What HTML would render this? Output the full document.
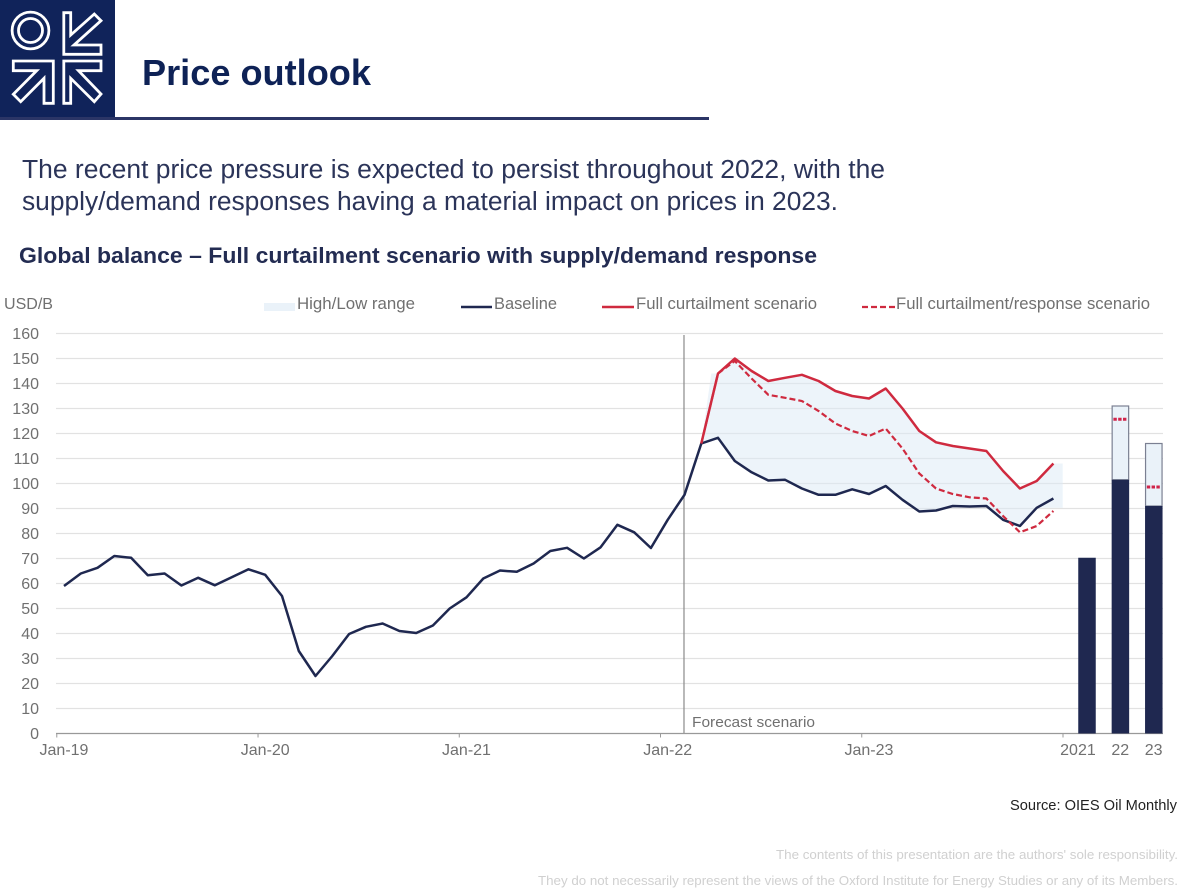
<!DOCTYPE html>
<html lang="en">
<head>
<meta charset="utf-8">
<title>Price outlook</title>
<style>
  html,body{margin:0;padding:0;background:#fff;width:1189px;height:891px;overflow:hidden}
  svg{display:block;font-family:"Liberation Sans",Arial,sans-serif}
</style>
</head>
<body>
<svg id="page" xmlns="http://www.w3.org/2000/svg" width="1189" height="891" viewBox="0 0 1189 891">
  <rect x="0" y="0" width="1189" height="891" fill="#ffffff"/>
  <g>
    <rect x="0" y="0" width="115" height="118" fill="#10235a"/>
    <g fill="none" stroke="#ffffff" stroke-width="2.8">
      <circle cx="30.5" cy="30.5" r="18.4"/>
      <circle cx="30.5" cy="30.5" r="12"/>
      <polygon points="63.8,12.7 70.7,12.7 70.7,35 94.3,14 101,20.7 74,45 101,45 101,54.3 63.8,54.3"/>
      <polygon points="13.3,61 53.3,61 53.3,103.3 44,103.3 44,78.3 20.7,101.7 13.3,94.3 36.7,70.7 13.3,70.7"/>
      <polygon points="63.8,61 101,61 101,70.7 78.5,70.7 101,94 94.3,101.7 70.7,78.3 70.7,103.3 63.8,103.3"/>
    </g>
  </g>
  <text x="142" y="85" font-size="36" font-weight="700" fill="#0e2256" textLength="229" lengthAdjust="spacingAndGlyphs">Price outlook</text>
  <rect x="0" y="117" width="709" height="3" fill="#2b3566"/>
  <text x="22" y="178" font-size="25.5" fill="#2b3459" textLength="863" lengthAdjust="spacingAndGlyphs">The recent price pressure is expected to persist throughout 2022, with the</text>
  <text x="22" y="210" font-size="25.5" fill="#2b3459" textLength="816" lengthAdjust="spacingAndGlyphs">supply/demand responses having a material impact on prices in 2023.</text>
  <text x="19" y="263" font-size="22" font-weight="700" fill="#232c52" textLength="798" lengthAdjust="spacingAndGlyphs">Global balance – Full curtailment scenario with supply/demand response</text>

  <text x="4" y="309" font-size="16" fill="#707070" textLength="49" lengthAdjust="spacingAndGlyphs">USD/B</text>

  <g font-size="16.5" fill="#707070">
    <g>
      <rect x="264" y="303" width="31" height="8" fill="#eaf2f9"/>
      <text x="297" y="309" textLength="118" lengthAdjust="spacingAndGlyphs">High/Low range</text>
    </g>
    <g>
      <line x1="461" y1="307" x2="492" y2="307" stroke="#1f2850" stroke-width="2.5"/>
      <text x="494" y="309" textLength="63" lengthAdjust="spacingAndGlyphs">Baseline</text>
    </g>
    <g>
      <line x1="602" y1="307" x2="634" y2="307" stroke="#cf2a3f" stroke-width="2.5"/>
      <text x="636" y="309" textLength="181" lengthAdjust="spacingAndGlyphs">Full curtailment scenario</text>
    </g>
    <g>
      <line x1="862" y1="307" x2="895" y2="307" stroke="#cf2a3f" stroke-width="2.2" stroke-dasharray="6 3"/>
      <text x="896" y="309" textLength="254" lengthAdjust="spacingAndGlyphs">Full curtailment/response scenario</text>
    </g>
  </g>

  <g id="chart"></g>

  <text x="1010" y="810" font-size="14.5" fill="#222222" textLength="167" lengthAdjust="spacingAndGlyphs">Source: OIES Oil Monthly</text>
  <text x="776" y="859" font-size="13" fill="#d0d0d0" textLength="402" lengthAdjust="spacingAndGlyphs">The contents of this presentation are the authors' sole responsibility.</text>
  <text x="538" y="885" font-size="13" fill="#d0d0d0" textLength="640" lengthAdjust="spacingAndGlyphs">They do not necessarily represent the views of the Oxford Institute for Energy Studies or any of its Members.</text>
</svg>

<script>
// ---- chart data (monthly, Jan-19 to Dec-23; USD/B) ----
const yTicks = [0,10,20,30,40,50,60,70,80,90,100,110,120,130,140,150,160];
const xTickMonths = [0,12,24,36,48];
const xTickLabels = ['Jan-19','Jan-20','Jan-21','Jan-22','Jan-23'];
const baseline = [
  59,64,66.3,71,70.3,63.3,64,59.2,62.3,59.3,62.5,65.7,
  63.5,55,33,23,31,39.8,42.7,44,41,40.2,43.2,50,
  54.5,62,65.2,64.7,68,73,74.3,70,74.5,83.5,80.5,74.2,
  85.5,95.5,116,118.3,109,104.5,101.2,101.5,98,95.5,95.5,97.7,
  95.8,99,93.5,88.8,89.2,91,90.8,91,85.5,83,90.3,94
];
const scenarioStartMonth = 38;
const fullCurtailment = [116,144,150,145,141,142.3,143.5,141,137,135,134,138,130,121,116.5,115,114,113,105,98,101,108];
const response = [116,144,149,142,135.5,134.3,133,129,124,121,119,122,114,104,98,95.8,94.5,94,87,80.5,83,89];
const rangeHigh = [116,144,150,145,141,142.3,143.5,141,137,135,134,138,130,121,116.5,115,114,113,105,98,101,108];
const rangeLow = [116,118.3,109,104.5,101.2,101.5,98,95.5,95.5,97.7,95.8,99,93.5,88.8,89.2,91,90.8,91,85.5,83,90.3,90.3];
const forecastStartMonth = 37;
const barLabels = ['2021','22','23'];
const barBaseline = [70.3,101.5,91];
const barHigh = [null,131,116];
const barResponse = [null,125.7,98.6];

// ---- axis functions ----
const yOf = v => 733.5 - v * 2.5;
const xOf = m => 64 + m * 16.77;
const barCenter = i => 1087 + i * 33.4;
const barWidth = 17.5;

const NS = 'http://www.w3.org/2000/svg';
const chart = document.getElementById('chart');
function mk(tag, attrs, text){
  const el = document.createElementNS(NS, tag);
  for (const k in attrs) el.setAttribute(k, attrs[k]);
  if (text !== undefined) el.textContent = text;
  chart.appendChild(el);
  return el;
}
function pts(list){ return list.map(p => p[0].toFixed(1) + ',' + p[1].toFixed(1)).join(' '); }

// gridlines and y labels
yTicks.forEach(function(v){
  if (v > 0) {
    const g = mk('line', {x1:56, x2:1163, y1:yOf(v), y2:yOf(v), stroke:'#e2e2e2', 'stroke-width':1.2});
    
    
  }
  const t = mk('text', {x:39, y:yOf(v)+5.5, 'text-anchor':'end', 'font-size':16, fill:'#707070'}, String(v));
  
  
});

// high/low range band
const bandTop = rangeHigh.map((v,i) => [xOf(scenarioStartMonth+i), yOf(v)]);
const bandBottom = rangeLow.map((v,i) => [xOf(scenarioStartMonth+i), yOf(v)]);
const lastHigh = rangeHigh[rangeHigh.length-1];
const lastLow = rangeLow[rangeLow.length-1];
const lastMonth = scenarioStartMonth + rangeHigh.length - 1;
const bandPoints = [bandTop[0], [xOf(scenarioStartMonth+0.6), yOf(rangeHigh[1])]]
  .concat(bandTop.slice(1))
  .concat([[xOf(lastMonth+0.55), yOf(lastHigh)], [xOf(lastMonth+0.55), yOf(lastLow)]])
  .concat(bandBottom.slice().reverse());
const band = mk('polygon', {points:pts(bandPoints), fill:'#dce9f5', 'fill-opacity':0.52});



// forecast marker
const fl = mk('line', {x1:xOf(forecastStartMonth)-0.5, x2:xOf(forecastStartMonth)-0.5, y1:335, y2:733.5, stroke:'#8a8a8a', 'stroke-width':1.2});


const ft = mk('text', {x:692, y:727, 'font-size':15, fill:'#707070', textLength:123, lengthAdjust:'spacingAndGlyphs'}, 'Forecast scenario');



// x axis
const ax = mk('line', {x1:56, x2:1163, y1:733.5, y2:733.5, stroke:'#999999', 'stroke-width':1.3});


xTickMonths.concat([60]).forEach(function(m){
  const tk = mk('line', {x1:xOf(m-0.43), x2:xOf(m-0.43), y1:733.5, y2:737.5, stroke:'#999999', 'stroke-width':1});
  
  
});
xTickLabels.forEach(function(s,i){
  const t = mk('text', {x:xOf(xTickMonths[i]), y:755, 'text-anchor':'middle', 'font-size':16, fill:'#707070'}, s);
  
  
});

// series lines
const baseLine = mk('polyline', {points:pts(baseline.map((v,i)=>[xOf(i),yOf(v)])), fill:'none', stroke:'#1f2850', 'stroke-width':2.5, 'stroke-linejoin':'round'});


const respLine = mk('polyline', {points:pts(response.map((v,i)=>[xOf(scenarioStartMonth+i),yOf(v)])), fill:'none', stroke:'#cf2a3f', 'stroke-width':2.2, 'stroke-dasharray':'6 3'});


const redLine = mk('polyline', {points:pts(fullCurtailment.map((v,i)=>[xOf(scenarioStartMonth+i),yOf(v)])), fill:'none', stroke:'#cf2a3f', 'stroke-width':2.5, 'stroke-linejoin':'round'});



// annual bars
barLabels.forEach(function(lab,i){
  const cx = barCenter(i);
  if (barHigh[i] !== null) {
    const up = mk('rect', {x:cx-barWidth/2+0.5, y:yOf(barHigh[i]), width:barWidth-1, height:yOf(barBaseline[i])-yOf(barHigh[i]), fill:'#eaf2f9', stroke:'#7b8092', 'stroke-width':1.2});
    
    
  }
  const b = mk('rect', {x:cx-barWidth/2, y:yOf(barBaseline[i]), width:barWidth, height:yOf(0)-yOf(barBaseline[i]), fill:'#1f2850'});
  
  
  if (barResponse[i] !== null) {
    const d = mk('line', {x1:cx-7, x2:cx+7, y1:yOf(barResponse[i]), y2:yOf(barResponse[i]), stroke:'#d0244a', 'stroke-width':3, 'stroke-dasharray':'3.4 1.4'});
    
    
  }
  const t = mk('text', {x:cx+barWidth/2, y:755, 'text-anchor':'end', 'font-size':16, fill:'#707070'}, lab);
  
  
});
</script>
</body>
</html>
